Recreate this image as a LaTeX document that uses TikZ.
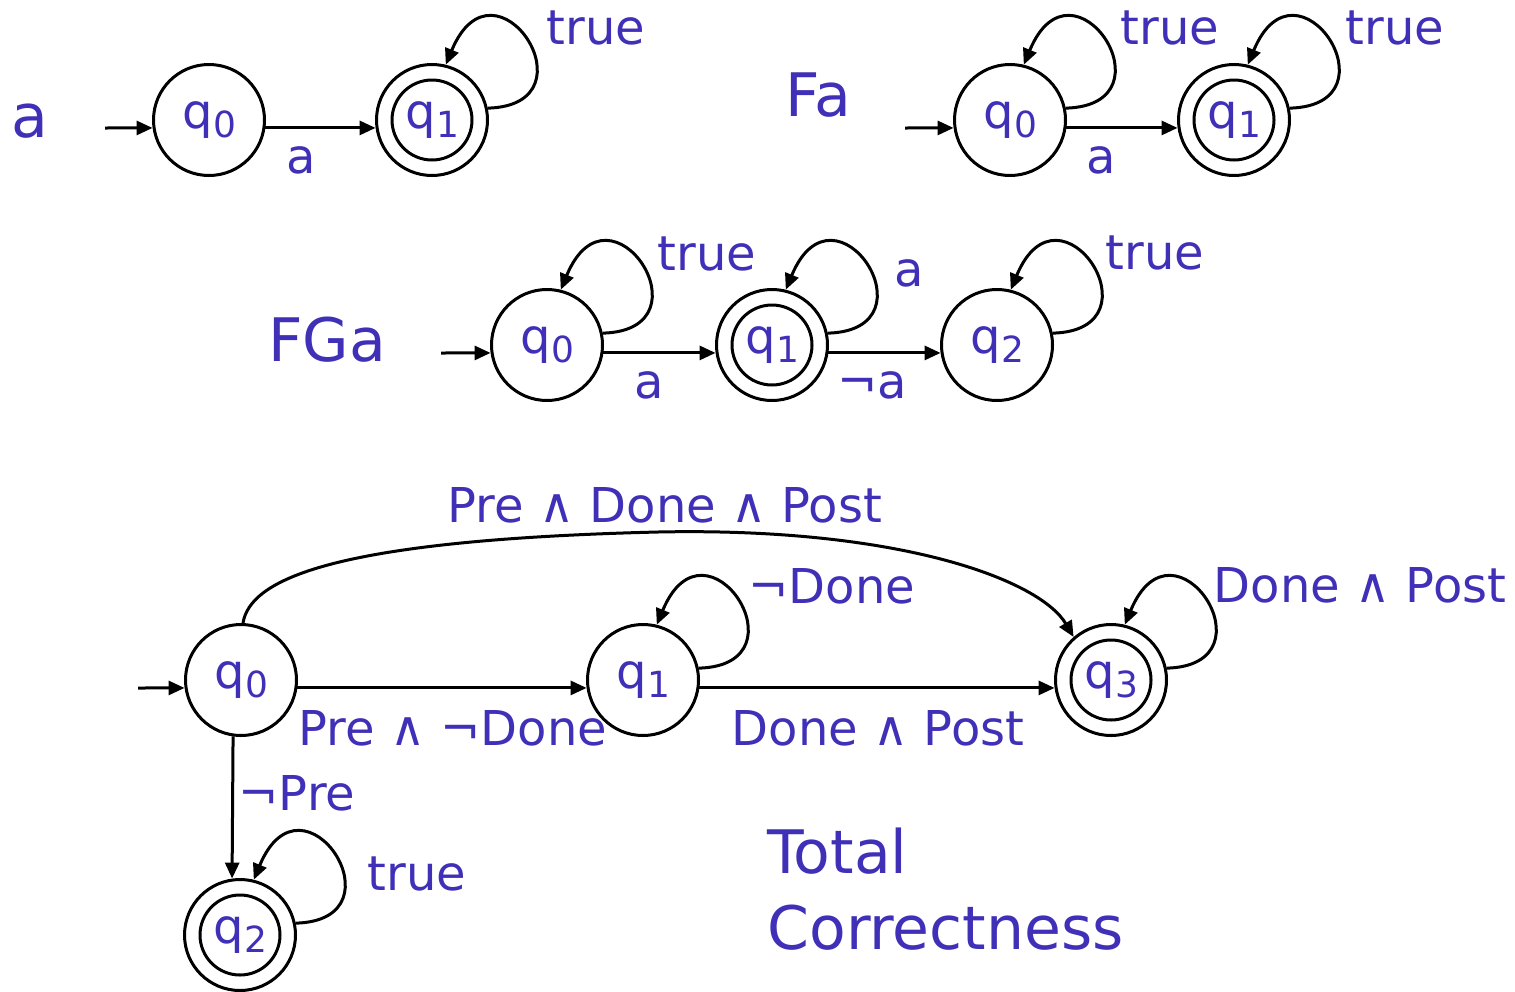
\documentclass[tikz,border=0pt]{standalone}
\usepackage{fontspec}
\setmainfont{DejaVu Sans}
\usetikzlibrary{arrows.meta}
\definecolor{txt}{RGB}{64,48,184}
\newcommand\qq[1]{q\kern0.3pt\raisebox{-4.5pt}{\fontsize{18}{18}\selectfont #1}}
\newcommand\loopat[1]{\draw[edge] (#1.12) .. controls +(111,-3) and +(49,-118) .. (#1.76);}
\begin{document}
\begin{tikzpicture}[x=0.5pt,y=-0.5pt,
  st/.style={circle,draw,line width=1.5pt,minimum size=55.5pt,inner sep=0pt,text=txt,font=\fontsize{24}{24}\selectfont},
  acc/.style={st,path picture={\draw[line width=1.5pt] (path picture bounding box.center) circle[radius=20pt];}},
  edge/.style={line width=1.5pt,-{Triangle[length=8pt,width=7pt]}},
  lab/.style={text=txt,inner sep=0pt,font=\fontsize{24}{24}\selectfont},
  big/.style={text=txt,inner sep=0pt,font=\fontsize{30}{30}\selectfont},
]
\useasboundingbox (0,0) rectangle (1515,991);

% row 1 : a
\node[big] (la) at (30,121) {a};
\coordinate (i1) at (105,128);
\node[st] (a0) at (209,120) {\qq0};
\node[acc] (a1) at (432,120) {\qq1};
\draw[edge] (i1) -- (a0.188);
\draw[edge] (a0.-8) -- (a1.188);
\loopat{a1}
\node[lab] (la1) at (301,160) {a};
\node[lab] (la2) at (596,28) {true};

% row 1 : Fa
\node[big] (lfa) at (818,95) {Fa};
\coordinate (i2) at (905,128);
\node[st] (b0) at (1010,120) {\qq0};
\node[acc] (b1) at (1234,120) {\qq1};
\draw[edge] (i2) -- (b0.188);
\draw[edge] (b0.-8) -- (b1.188);
\loopat{b0}
\loopat{b1}
\node[lab] (lb1) at (1101,160) {a};
\node[lab] (lb2) at (1170,28) {true};
\node[lab] (lb3) at (1395,28) {true};

% row 2 : FGa
\node[big] (lfga) at (327,340) {FGa};
\coordinate (i3) at (441,353);
\node[st] (c0) at (547,345) {\qq0};
\node[acc] (c1) at (772,345) {\qq1};
\node[st] (c2) at (997,345) {\qq2};
\draw[edge] (i3) -- (c0.188);
\draw[edge] (c0.-8) -- (c1.188);
\draw[edge] (c1.-8) -- (c2.188);
\loopat{c0}
\loopat{c1}
\loopat{c2}
\node[lab] (lc1) at (707,254) {true};
\node[lab] (lc2) at (909,273) {a};
\node[lab] (lc3) at (1155,253) {true};
\node[lab] (lc4) at (649,385) {a};
\node[lab] (lc5) at (872,385) {¬a};

% total correctness
\coordinate (i4) at (138,688);
\node[st] (d0) at (241,680) {\qq0};
\node[st] (d1) at (643,680) {\qq1};
\node[acc] (d3) at (1111,680) {\qq3};
\node[acc] (d2) at (240,935) {\qq2};
\draw[edge] (i4) -- (d0.188);
\draw[edge] (d0.-8) -- (d1.188);
\draw[edge] (d1.-8) -- (d3.188);
\draw[edge] (d0.262) -- (d2.98);
\draw[edge] (d0.88) .. controls (250,580) and (330,540) .. (658,532)
  .. controls (900,527) and (1040,580) .. (d3.131);
\loopat{d1}
\loopat{d3}
\loopat{d2}
\node[lab] (ld1) at (665,505) {Pre ∧ Done ∧ Post};
\node[lab] (ld2) at (832,586) {¬Done};
\node[lab] (ld3) at (1360,585) {Done ∧ Post};
\node[lab] (ld4) at (453,728) {Pre ∧ ¬Done};
\node[lab] (ld5) at (878,728) {Done ∧ Post};
\node[lab] (ld6) at (297,793) {¬Pre};
\node[lab] (ld7) at (417,874) {true};
\node[big,anchor=west] (lt1) at (767,851) {Total};
\node[big,anchor=west] (lt2) at (767,928) {Correctness};
\end{tikzpicture}
\end{document}
